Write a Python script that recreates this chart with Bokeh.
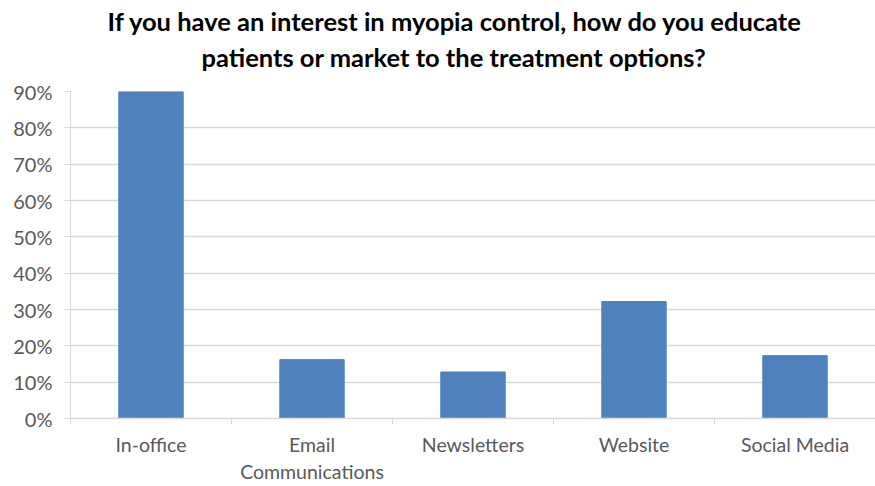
from bokeh.plotting import figure
from bokeh.models import Range1d, FixedTicker, LinearAxis, Title
from bokeh.embed import file_html
from bokeh.resources import INLINE

categories = ["In-office", "Email\nCommunications", "Newsletters", "Website", "Social Media"]
values = [0.90, 0.162, 0.128, 0.322, 0.173]
y_ticks = [0.0, 0.1, 0.2, 0.3, 0.4, 0.5, 0.6, 0.7, 0.8, 0.9]
y_tick_labels = ["0%", "10%", "20%", "30%", "40%", "50%", "60%", "70%", "80%", "90%"]
title_lines = ["If you have an interest in myopia control, how do you educate",
               "patients or market to the treatment options?"]

FONT = "Lato"
GRID = "#d9d9d9"
LABEL = "#595959"
W, H = 875, 486
LEFT, TOP, BOTTOM = 70, 91, 419

n = len(categories)
centers = [i + 0.5 for i in range(n)]

p = figure(width=W, height=H, output_backend="svg", toolbar_location=None,
           x_range=Range1d(0, n), y_range=Range1d(0, 0.9),
           min_border_left=LEFT, min_border_right=0, min_border_top=TOP, min_border_bottom=H - BOTTOM,
           x_axis_location=None, y_axis_location=None)
p.outline_line_color = None
p.background_fill_color = "white"
p.border_fill_color = "white"

p.vbar(x=centers, top=values, width=0.4, fill_color="#4F81BD", line_color="#4F81BD")

# y axis
ya = LinearAxis(ticker=FixedTicker(ticks=y_ticks))
ya.major_label_overrides = {t: l for t, l in zip(y_ticks, y_tick_labels)}
ya.axis_line_color = GRID
ya.major_tick_line_color = GRID
ya.major_tick_out = 6
ya.major_tick_in = 0
ya.minor_tick_line_color = None
ya.major_label_standoff = 12
ya.major_label_text_font = FONT
ya.major_label_text_font_size = "20px"
ya.major_label_text_color = LABEL
p.add_layout(ya, "left")

# x axis: ticks at boundaries
xa = LinearAxis(ticker=FixedTicker(ticks=list(range(n + 1))))
xa.axis_line_color = GRID
xa.axis_line_width = 1.5
xa.major_tick_line_color = GRID
xa.major_tick_out = 6
xa.major_tick_in = 0
xa.minor_tick_line_color = None
xa.major_label_standoff = 0
xa.major_label_text_font_size = "0px"
xa.major_label_text_color = None
p.add_layout(xa, "below")

# x labels at centres
xl = LinearAxis(ticker=FixedTicker(ticks=centers))
xl.major_label_overrides = {c: l for c, l in zip(centers, categories)}
xl.axis_line_color = None
xl.major_tick_line_color = None
xl.minor_tick_line_color = None
xl.major_tick_out = 0
xl.major_tick_in = 0
xl.major_label_standoff = 8
xl.major_label_text_font = FONT
xl.major_label_text_font_size = "19.5px"
xl.major_label_text_color = LABEL
p.add_layout(xl, "below")

p.xgrid.visible = False
p.ygrid.ticker = FixedTicker(ticks=y_ticks)
p.ygrid.grid_line_color = GRID
p.ygrid.grid_line_width = 1.5

# spacer between the frame and the title block (panels stack outward from the frame)
p.add_layout(Title(text=" ", text_font_size="1px", standoff=15), "above")
title_offsets = [37, 131]
for line, off in reversed(list(zip(title_lines, title_offsets))):
    t = Title(text=line, align="left", offset=off, text_font=FONT,
              text_font_size="25.5px", text_font_style="bold", text_color="#000000",
              standoff=4)
    p.add_layout(t, "above")

open("out.html", "w").write(file_html(p, INLINE))
